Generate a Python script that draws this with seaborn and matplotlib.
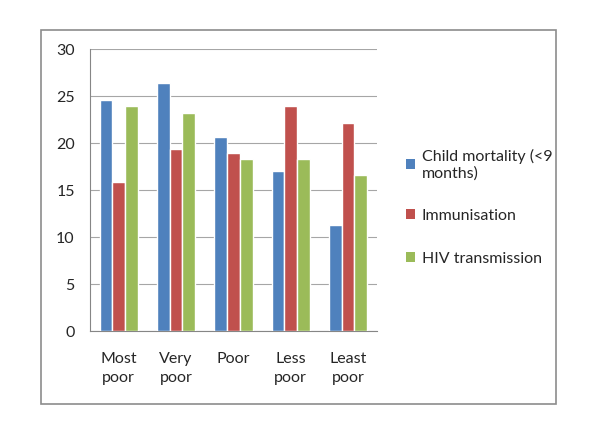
import matplotlib
matplotlib.use("Agg")
import matplotlib.pyplot as plt
import pandas as pd
import seaborn as sns
from matplotlib.patches import Patch, Rectangle

categories = ["Most\npoor", "Very\npoor", "Poor", "Less\npoor", "Least\npoor"]
series = ["Child mortality (<9\nmonths)", "Immunisation", "HIV transmission"]
child_mortality = [24.6, 26.45, 20.7, 17.0, 11.3]
immunisation = [15.9, 19.4, 19.0, 23.9, 22.1]
hiv_transmission = [24.0, 23.2, 18.3, 18.3, 16.6]
colors = ["#4F81BD", "#C0504D", "#9BBB59"]

df = pd.DataFrame({
    "group": categories * 3,
    "series": [s for s in series for _ in categories],
    "value": child_mortality + immunisation + hiv_transmission,
})

sns.set_style("white")
plt.rcParams["font.family"] = ["Lato", "DejaVu Sans"]
fs = 11.5

fig = plt.figure(figsize=(6, 4.43), dpi=100)
ax = fig.add_axes([0.15, 0.2528, 0.478, 0.6362])

sns.barplot(data=df, x="group", y="value", hue="series", order=categories,
            hue_order=series, palette=colors, width=0.667, gap=0,
            saturation=1, errorbar=None, ax=ax, zorder=3)
ax.get_legend().remove()

ax.set_ylim(0, 30)
ax.set_xlim(-0.5, 4.5)
ax.set_yticks(range(0, 31, 5))
ax.yaxis.grid(True, color="#A6A6A6", lw=0.8, zorder=0)
ax.set_axisbelow(True)
ax.set_xlabel("")
ax.set_ylabel("")
for side in ["top", "right"]:
    ax.spines[side].set_visible(False)
for side in ["left", "bottom"]:
    ax.spines[side].set_color("#868686")
    ax.spines[side].set_linewidth(0.8)

ax.tick_params(axis="y", length=5, color="#868686", labelcolor="#262626",
               labelsize=fs, pad=6)
ax.tick_params(axis="x", which="major", length=0, labelcolor="#262626",
               labelsize=fs, pad=15)
ax.set_xticks([i - 0.5 for i in range(6)], minor=True)
ax.tick_params(axis="x", which="minor", length=5, color="#868686")
for lab in ax.get_xticklabels():
    lab.set_linespacing(1.45)

handles = [Patch(facecolor=c, edgecolor="none") for c in colors]
fig.legend(handles, series, loc="upper left", bbox_to_anchor=(0.652, 0.697),
           frameon=False, handlelength=0.6, handleheight=0.6,
           handletextpad=0.4, labelspacing=1.8, fontsize=fs)

fig.patches.append(Rectangle((0.068, 0.088), 0.859, 0.844, transform=fig.transFigure,
                             fill=False, edgecolor="#8C8C8C", lw=1.2))

fig.savefig("out.png", dpi=100)
